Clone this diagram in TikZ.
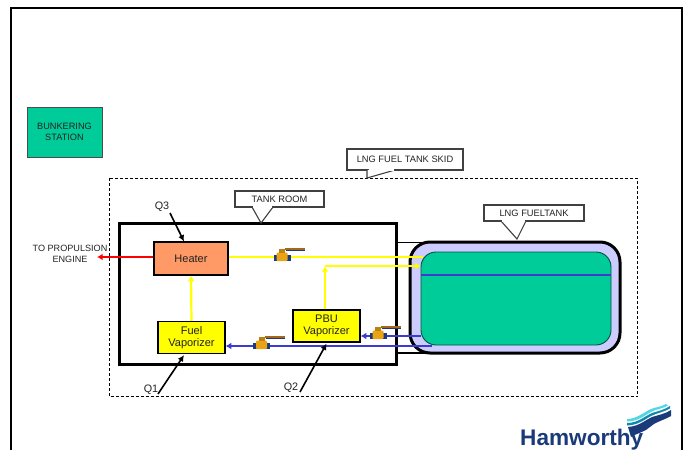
\documentclass[tikz,border=0pt]{standalone}
\usepackage{fontspec}
\setmainfont{Liberation Sans}
\usetikzlibrary{positioning,arrows.meta}
\definecolor{Lng}{HTML}{00CC99}
\definecolor{Shell}{HTML}{CCCCFF}
\definecolor{Coral}{HTML}{FF9966}
\definecolor{Gas}{HTML}{FFFF00}
\definecolor{Liquid}{HTML}{3B3BD0}
\definecolor{Texto}{HTML}{222222}
\definecolor{Navy}{HTML}{1A3A7A}
\definecolor{Brass}{HTML}{E8A317}
\definecolor{Handle}{HTML}{A5671E}

\begin{document}
\begin{tikzpicture}[
    x=1pt,y=-1pt,
    every node/.style={font=\fontsize{11}{12.2}\selectfont,align=center,text=Texto,inner sep=0pt},
    unit/.style={draw=black,line width=1.2pt,minimum width=67pt,minimum height=32pt},
    note/.style={draw=none,font=\fontsize{9.3}{11}\selectfont},
    noteline/.style={draw=black!75,line width=1.1pt,fill=white},
    tag/.style={font=\fontsize{10.8}{12}\selectfont},
    gasline/.style={draw=Gas,line width=2.2pt},
    gaspipe/.style={gasline,-{Latex[length=2mm,width=2.4mm]}},
    liquidpipe/.style={draw=Liquid,line width=2pt,-{Latex[length=2mm,width=2.4mm]}},
    pointer/.style={draw=black,line width=1.6pt,-{Latex[length=2.2mm,width=2.2mm]}},
    valve/.pic={
      \fill[Handle] (3,-9.5) -- (23,-9.5) -- (23,-7.3) -- (3,-7.3) -- cycle;
      \fill[Navy] (4,-7.3) rectangle (23,-6.3);
      \fill[Navy] (-8.5,-2.5) rectangle (8.5,4);
      \fill[Brass,rounded corners=1pt] (-5.5,-4.5) rectangle (5.5,4);
      \fill[Brass!80!black] (-3,-8.5) rectangle (3,-4.5);
    }
  ]
    \useasboundingbox (0,0) rectangle (688,450);
    \clip (0,0) rectangle (688,450);

    % outer frame
    \draw[line width=2pt] (10.5,450) -- (10.5,8) -- (681.5,8) -- (681.5,450);

    \node[draw=black!70,line width=1pt,fill=Lng,minimum width=75pt,minimum height=50pt,font=\fontsize{9.2}{11}\selectfont] (bunkering) at (64.5,132) {BUNKERING\\STATION};

    \draw[densely dashed,line width=.8pt] (109,178) rectangle (637.5,396.5);

    \node[draw=black,line width=3pt,minimum width=277pt,minimum height=141pt] (room) at (257.5,293.5) {};
    \coordinate (linktop) at (396,242.5);
    \coordinate (linkbot) at (396,353);
    \draw[line width=1.2pt] (linktop) -- (430,242.5);
    \draw[line width=1.2pt] (linkbot) -- (430,353);

    % tank
    \node[draw=black,line width=3pt,fill=Shell,rounded corners=20pt,minimum width=210pt,minimum height=111pt] (tank) at (515,297.5) {};
    \node[draw=black!60!Lng,line width=.9pt,fill=Lng,rounded corners=15pt,minimum width=190pt,minimum height=93pt] (lng) at (516,298.5) {};
    \draw[Liquid,line width=1.4pt] (lng.west |- 0,275) -- (lng.east |- 0,275);

    % units
    \node[unit,fill=Coral,minimum width=74pt,minimum height=33pt] (heater) at (191,258.5) {Heater};
    \node[unit,fill=Gas] (fuelvap) at (191.5,337.5) {Fuel\\Vaporizer};
    \node[unit,fill=Gas] (pbuvap) at (326.5,326) {PBU\\Vaporizer};

    % pipes
    \coordinate (toengine) at (97,257);
    \coordinate (bend) at (325,266);
    \coordinate (tankgas) at (423,257);
    \coordinate (tankin) at (421,266);
    \coordinate (tankpbu) at (421,336);
    \coordinate (tankfuel) at (432,346);
    \draw[draw=red,line width=2pt,-{Latex[length=2mm,width=2.4mm]}] ([yshift=1.5pt]heater.west) -- (toengine);
    \draw[gasline] ([yshift=1.5pt]heater.east) -- (tankgas);
    \draw[gaspipe] (fuelvap.north) -- (heater.south);
    \draw[gaspipe] (pbuvap.north -| bend) -- (bend);
    \draw[gaspipe] (bend) -- (tankin);
    \draw[liquidpipe] (tankpbu) -- (pbuvap.east |- tankpbu);
    \draw[liquidpipe] (tankfuel) -- (fuelvap.east |- tankfuel);

    \pic at (282,257) {valve};
    \pic at (261.5,345) {valve};
    \pic at (378,335) {valve};

    % notes
    \node[note,noteline,minimum width=116pt,minimum height=21pt] (skidnote) at (405,159.5) {LNG FUEL TANK SKID};
    \node[note,noteline,minimum width=89pt,minimum height=16pt] (roomnote) at (279.5,199) {TANK ROOM};
    \node[note,noteline,minimum width=100pt,minimum height=16pt] (tanknote) at (534,213) {LNG FUELTANK};
    \coordinate (skidtip) at (367,178);
    \coordinate (roomtip) at (261,223);
    \coordinate (tanktip) at (517,239);
    \draw[noteline] (367,170) -- (skidtip) -- (395,170);
    \draw[noteline] (252,207) -- (roomtip) -- (273,207);
    \draw[noteline] (501,221) -- (tanktip) -- (526,221);
    \draw[white,line width=1.3pt] (368.5,170) -- (394,170);
    \draw[white,line width=1.3pt] (253,207) -- (272,207);
    \draw[white,line width=1.3pt] (502,221) -- (525,221);

    \node[note,font=\fontsize{9.1}{10.5}\selectfont] (engine) at (70,254) {TO PROPULSION\\ENGINE};

    % tags
    \node[tag] (q3) at (162,207) {Q3};
    \node[tag] (q1) at (151,390) {Q1};
    \node[tag] (q2) at (291,388) {Q2};
    \draw[pointer] (170,213) -- ([xshift=-7pt]heater.north);
    \draw[pointer] (158,394) -- ([xshift=-7.5pt,yshift=-1pt]fuelvap.south);
    \draw[pointer] (300,392) -- ([yshift=-1pt]pbuvap.south);

    % logo
    \node[anchor=base west,font=\fontsize{22.6}{24}\selectfont\bfseries,text=Navy] (logo) at (520,445) {Hamworthy};
    \fill[Navy] (628,427) .. controls (640,426) and (645,420) .. (652,417) .. controls (658,415) and (665,414) .. (671,410)
      -- (671,416) .. controls (662,421) and (655,422) .. (650,427) .. controls (645,432) and (637,433) .. (631,437) -- cycle;
    \fill[Navy!60!cyan] (627,423) .. controls (638,423) and (645,416) .. (652,413) .. controls (658,411) and (664,410) .. (670,406)
      -- (670,408.5) .. controls (664,412) and (657,413) .. (651,416) .. controls (644,420) and (638,425) .. (627,425.5) -- cycle;
    \fill[Navy!30!cyan!70!white] (627,419) .. controls (637,419) and (644,412) .. (651,409) .. controls (656,407) and (661,407) .. (666,404)
      -- (668,405.5) .. controls (662,409) and (656,409) .. (651,412) .. controls (644,416) and (637,421.5) .. (627,421.5) -- cycle;
  \end{tikzpicture}
\end{document}
